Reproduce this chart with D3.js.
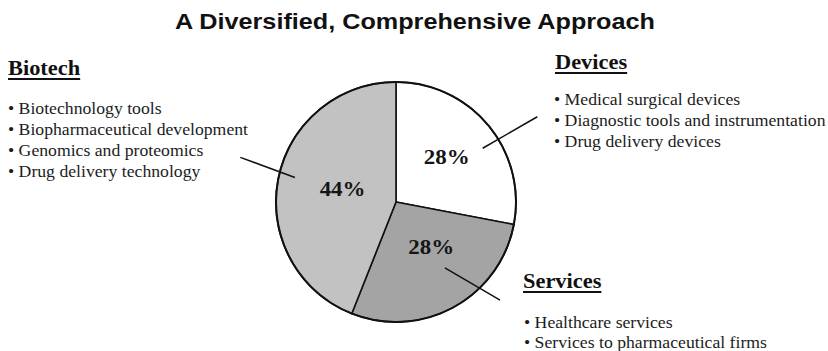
<!DOCTYPE html>
<html>
<head>
<meta charset="utf-8">
<script src="https://cdn.jsdelivr.net/npm/d3@7"></script>
<style>
  html, body { margin: 0; padding: 0; background: #fff; }
  svg { display: block; }
</style>
</head>
<body>
<svg id="chart" width="828" height="351"></svg>
<script>
// Business segments and their share of the portfolio (percent)
const segments = ["Devices", "Services", "Biotech"];
const shares = [28, 28, 44];
const shareLabels = ["28%", "28%", "44%"];

// Bullet lists describing each segment
const biotechItems = [
  "Biotechnology tools",
  "Biopharmaceutical development",
  "Genomics and proteomics",
  "Drug delivery technology"
];
const devicesItems = [
  "Medical surgical devices",
  "Diagnostic tools and instrumentation",
  "Drug delivery devices"
];
const servicesItems = [
  "Healthcare services",
  "Services to pharmaceutical firms"
];

const title = "A Diversified, Comprehensive Approach";

// ---- layout ----
const W = 828, H = 351;
const cx = 396, cy = 202, R = 120;
const sx = 1.12;      // horizontal widening of headings and labels
const sxItem = 1.06;  // horizontal widening of bullet text
const serif = "'Liberation Serif', 'Times New Roman', serif";
const sans = "'Liberation Sans', Arial, Helvetica, sans-serif";

const fills = { Devices: "#ffffff", Services: "#a4a4a4", Biotech: "#c2c2c2" };

// label nudges and leader-line geometry (angles in degrees, relative to slice middle)
const layout = {
  Devices:  { labelK: 0.56, labelDx: -1, labelDy: -2, lead: [7.8, 102, 8.5, 165] },
  Services: { labelK: 0.47, labelDx: 8,  labelDy: -5, lead: [-7.8, 82, -17.9, 143] },
  Biotech:  { labelK: 0.47, labelDx: 2,  labelDy: -3, lead: [2.8, 104, 5.2, 162] }
};

const blocks = {
  Biotech:  { items: biotechItems,  x: 8,   y: 75,  itemX: 8,   itemY: 114, step: 21 },
  Devices:  { items: devicesItems,  x: 555, y: 69,  itemX: 554, itemY: 105, step: 21 },
  Services: { items: servicesItems, x: 523, y: 288, itemX: 524, itemY: 328, step: 20 }
};

const svg = d3.select("#chart");

function widen(sel, f) {
  sel.each(function () {
    const w = this.getComputedTextLength();
    d3.select(this).attr("textLength", w * f).attr("lengthAdjust", "spacingAndGlyphs");
  });
  return sel;
}

// title
widen(svg.append("text")
  .attr("x", 415).attr("y", 29)
  .attr("text-anchor", "middle")
  .attr("font-family", sans).attr("font-weight", "bold").attr("font-size", 22.5)
  .attr("fill", "#111")
  .text(title), sx);

// pie
const pie = d3.pie().sort(null).value(d => d)(shares);
const arc = d3.arc().innerRadius(0).outerRadius(R);
const g = svg.append("g").attr("transform", `translate(${cx},${cy})`);

g.selectAll("path.slice")
  .data(pie)
  .join("path")
  .attr("class", "slice")
  .attr("d", arc)
  .attr("fill", (d, i) => fills[segments[i]])
  .attr("stroke", "#111")
  .attr("stroke-width", 1.6)
  .attr("stroke-linejoin", "round");

// outer rim a touch heavier
g.append("circle").attr("r", R).attr("fill", "none").attr("stroke", "#111").attr("stroke-width", 2);

const rad = a => a * Math.PI / 180;
const polar = (ang, r) => [r * Math.sin(ang), -r * Math.cos(ang)];

// leader lines from slice to its description
g.selectAll("line.leader")
  .data(pie)
  .join("line")
  .attr("class", "leader")
  .each(function (d, i) {
    const L = layout[segments[i]].lead;
    const mid = (d.startAngle + d.endAngle) / 2;
    const p0 = polar(mid + rad(L[0]), L[1]);
    const p1 = polar(mid + rad(L[2]), L[3]);
    d3.select(this)
      .attr("x1", p0[0]).attr("y1", p0[1])
      .attr("x2", p1[0]).attr("y2", p1[1]);
  })
  .attr("stroke", "#111")
  .attr("stroke-width", 1.5);

// percentage labels
g.selectAll("text.pct")
  .data(pie)
  .join("text")
  .attr("class", "pct")
  .each(function (d, i) {
    const L = layout[segments[i]];
    const c = d3.arc().innerRadius(R * L.labelK).outerRadius(R * L.labelK).centroid(d);
    d3.select(this).attr("x", c[0] + L.labelDx).attr("y", c[1] + L.labelDy);
  })
  .attr("dy", "0.35em")
  .attr("text-anchor", "middle")
  .attr("font-family", serif).attr("font-weight", "bold").attr("font-size", 20.5)
  .attr("fill", "#151515")
  .text((d, i) => shareLabels[i])
  .call(widen, sx);

// segment headings with underline, followed by bullet lists
segments.forEach(name => {
  const b = blocks[name];
  const head = svg.append("text")
    .attr("x", b.x).attr("y", b.y)
    .attr("font-family", serif).attr("font-weight", "bold").attr("font-size", 20)
    .attr("fill", "#111")
    .text(name);
  widen(head, sx);
  const hw = +head.attr("textLength");
  svg.append("line")
    .attr("x1", b.x).attr("x2", b.x + hw)
    .attr("y1", b.y + 4).attr("y2", b.y + 4)
    .attr("stroke", "#111").attr("stroke-width", 2);

  svg.selectAll(null)
    .data(b.items)
    .join("text")
    .attr("x", b.itemX)
    .attr("y", (d, i) => b.itemY + i * b.step)
    .attr("font-family", serif).attr("font-size", 16.7)
    .attr("fill", "#1c1c1c")
    .text(d => "\u2022 " + d)
    .call(widen, sxItem);
});
</script>
</body>
</html>
